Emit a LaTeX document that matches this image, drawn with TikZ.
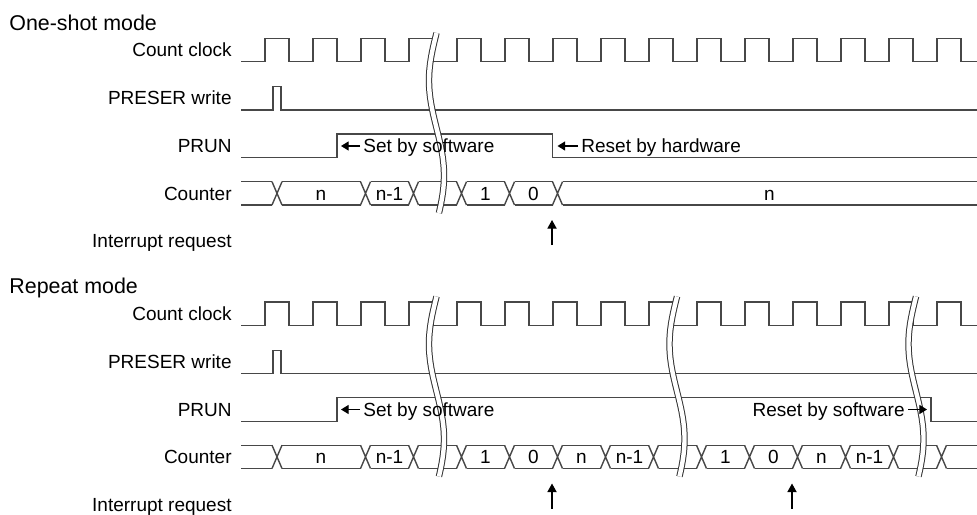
\documentclass[tikz,border=0pt]{standalone}
\usepackage{fontspec}
\setmainfont{Liberation Sans}
\usetikzlibrary{arrows.meta}

\tikzset{
  sig/.style={draw=black!72, line width=0.7pt},
  brk/.style={draw=black!80, line width=0.5pt, double=white, double distance=2.2pt},
  lbl/.style={inner sep=0pt, font=\fontsize{9.5}{11}\selectfont, text height=6.8pt, text depth=0pt},
  ttl/.style={inner sep=0pt, anchor=west, font=\fontsize{10.7}{13}\selectfont, text height=7.7pt, text depth=0pt},
  note/.style={-{Triangle[length=3.8pt,width=4.5pt]}, line width=0.55pt},
  irq/.style={-{Triangle[length=4.3pt,width=4.6pt]}, line width=0.6pt},
}

% wavy double break mark at x = #1
\newcommand{\breakmark}[1]{%
  \draw[brk] plot[domain=33:213, samples=40, smooth, variable=\t] ({#1-7.5*sin(1.8947*(\t-33))}, \t);}

\begin{document}
\begin{tikzpicture}[x=0.5pt, y=-0.5pt]
    \useasboundingbox (0,0) rectangle (977,514);

    % One-shot mode
    \begin{scope}
        % Count clock
        \draw[sig] (241,61.7) \foreach \k in {0,...,14} {
            -- ({265+48*\k},61.7) -- ({265+48*\k},38.3) -- ({289+48*\k},38.3) -- ({289+48*\k},61.7)
        } -- (977,61.7);

        % PRESER write
        \draw[sig] (241,110) -- (273,110) -- (273,86.7) -- (281,86.7) -- (281,110) -- (977,110);

        % PRUN
        \draw[sig] (241,157.7) -- (337,157.7) -- (337,134) -- (552.5,134) -- (552.5,157.7) -- (977,157.7);

        % Counter
        \draw[sig] (241,181.7) -- (272,181.7) (241,205) -- (272,205);
        \draw[sig] (282,181.7) -- (360.5,181.7) (282,205) -- (360.5,205);
        \foreach \c in {413.5,461.5,...,557.5}
            \draw[sig] ({\c-43},181.7) -- ({\c-5},181.7) ({\c-43},205) -- ({\c-5},205);
        \draw[sig] (562.5,181.7) -- (977,181.7) (562.5,205) -- (977,205);
        \foreach \c in {277,365.5,413.5,461.5,509.5,557.5}
            \draw[sig] ({\c-5},181.7) -- ({\c+5},205) ({\c-5},205) -- ({\c+5},181.7);

        % Break
        \breakmark{436.5}

        % Labels
        \node[ttl] (titleA) at (9,22.5) {One-shot mode};
        \node[lbl, anchor=east] (clkA) at (232,50) {Count clock};
        \node[lbl, anchor=east] (preA) at (232,98) {PRESER write};
        \node[lbl, anchor=east] (prunA) at (232,146) {PRUN};
        \node[lbl, anchor=east] (cntA) at (232,193.3) {Counter};
        \node[lbl, anchor=east] (irqA) at (232,241) {Interrupt request};

        \node[lbl] (vA1) at (321,193.3) {n};
        \node[lbl] (vA2) at (389.5,193.3) {n-1};
        \node[lbl] (vA3) at (485.5,193.3) {1};
        \node[lbl] (vA4) at (533.5,193.3) {0};
        \node[lbl] (vA5) at (769.5,193.3) {n};

        % Notes
        \node[lbl, anchor=west] (setA) at (363,146) {Set by software};
        \coordinate (setAtip) at (341,146);
        \draw[note] ([xshift=-1.5pt]setA.west) -- (setAtip);
        \node[lbl, anchor=west] (rstA) at (581,146) {Reset by hardware};
        \coordinate (rstAtip) at (557.5,146);
        \draw[note] ([xshift=-1.5pt]rstA.west) -- (rstAtip);

        % Interrupt
        \coordinate (irqA1s) at (552,245);
        \coordinate (irqA1e) at (552,220);
        \draw[irq] (irqA1s) -- (irqA1e);
    \end{scope}

    % Repeat mode
    \begin{scope}[shift={(0,263.5)}]
        % Count clock
        \draw[sig] (241,61.7) \foreach \k in {0,...,14} {
            -- ({265+48*\k},61.7) -- ({265+48*\k},38.3) -- ({289+48*\k},38.3) -- ({289+48*\k},61.7)
        } -- (977,61.7);

        % PRESER write
        \draw[sig] (241,110) -- (273,110) -- (273,86.7) -- (281,86.7) -- (281,110) -- (977,110);

        % PRUN
        \draw[sig] (241,157.7) -- (337,157.7) -- (337,134) -- (931,134) -- (931,157.7) -- (977,157.7);

        % Counter
        \draw[sig] (241,181.7) -- (272,181.7) (241,205) -- (272,205);
        \draw[sig] (282,181.7) -- (360.5,181.7) (282,205) -- (360.5,205);
        \foreach \c in {413.5,461.5,...,941.5}
            \draw[sig] ({\c-43},181.7) -- ({\c-5},181.7) ({\c-43},205) -- ({\c-5},205);
        \draw[sig] (946.5,181.7) -- (977,181.7) (946.5,205) -- (977,205);
        \foreach \c in {277,365.5,413.5,461.5,...,941.5}
            \draw[sig] ({\c-5},181.7) -- ({\c+5},205) ({\c-5},205) -- ({\c+5},181.7);

        % Breaks
        \breakmark{436.5}
        \breakmark{677}
        \breakmark{916}

        % Labels
        \node[ttl] (titleB) at (9,22.5) {Repeat mode};
        \node[lbl, anchor=east] (clkB) at (232,50) {Count clock};
        \node[lbl, anchor=east] (preB) at (232,98) {PRESER write};
        \node[lbl, anchor=east] (prunB) at (232,146) {PRUN};
        \node[lbl, anchor=east] (cntB) at (232,193.3) {Counter};
        \node[lbl, anchor=east] (irqB) at (232,241) {Interrupt request};

        \node[lbl] (vB1) at (321,193.3) {n};
        \node[lbl] (vB2) at (389.5,193.3) {n-1};
        \node[lbl] (vB3) at (485.5,193.3) {1};
        \node[lbl] (vB4) at (533.5,193.3) {0};
        \node[lbl] (vB5) at (581.5,193.3) {n};
        \node[lbl] (vB6) at (629.5,193.3) {n-1};
        \node[lbl] (vB7) at (725.5,193.3) {1};
        \node[lbl] (vB8) at (773.5,193.3) {0};
        \node[lbl] (vB9) at (821.5,193.3) {n};
        \node[lbl] (vB10) at (869.5,193.3) {n-1};

        % Notes
        \node[lbl, anchor=west] (setB) at (363,146) {Set by software};
        \coordinate (setBtip) at (341,146);
        \draw[note] ([xshift=-1.5pt]setB.west) -- (setBtip);
        \node[lbl, anchor=east] (rstB) at (905,146) {Reset by software};
        \coordinate (rstBtip) at (927,146);
        \draw[note] ([xshift=1.5pt]rstB.east) -- (rstBtip);

        % Interrupts
        \coordinate (irqB1s) at (552,245);
        \coordinate (irqB1e) at (552,220);
        \draw[irq] (irqB1s) -- (irqB1e);
        \coordinate (irqB2s) at (792,245);
        \coordinate (irqB2e) at (792,220);
        \draw[irq] (irqB2s) -- (irqB2e);
    \end{scope}
\end{tikzpicture}
\end{document}
